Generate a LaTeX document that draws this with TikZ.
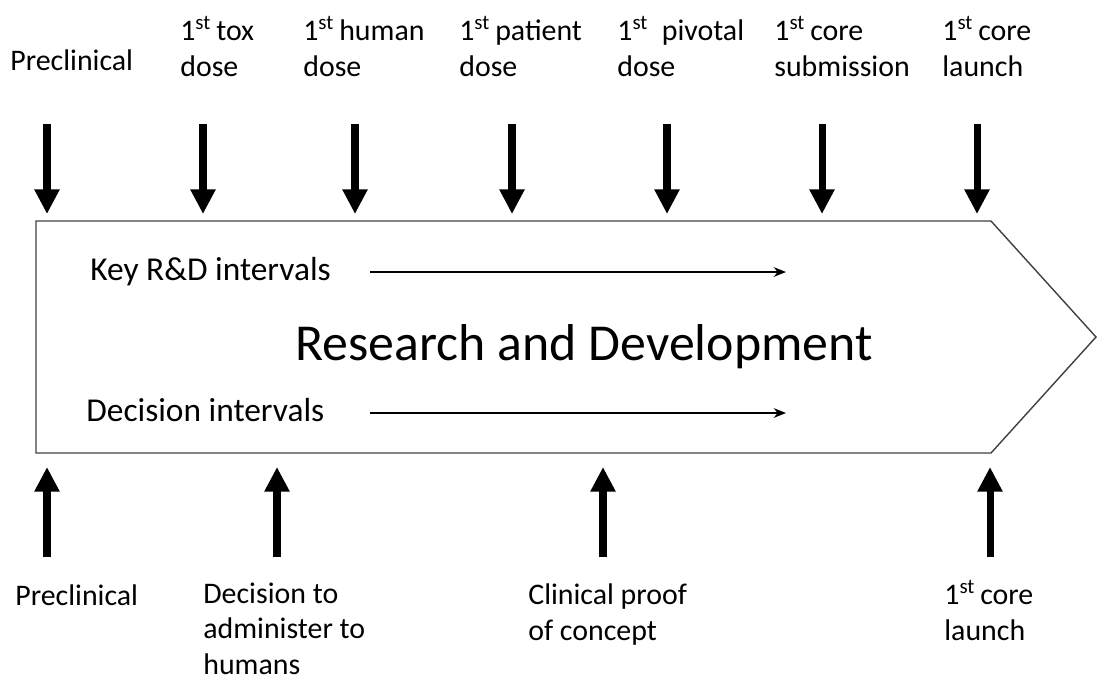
\documentclass[tikz,border=0pt]{standalone}
\usepackage{fontspec}
\setmainfont{Carlito}
\usetikzlibrary{arrows.meta,positioning}

\begin{document}
\begin{tikzpicture}[
    x=0.02cm, y=-0.02cm,
    milestone/.style={anchor=base west, inner sep=0pt, align=left, font=\fontsize{17}{20.2}\selectfont},
    interval/.style={anchor=base west, inner sep=0pt, font=\fontsize{19}{23}\selectfont},
    title/.style={inner sep=0pt, font=\fontsize{29.5}{35}\selectfont},
    bigarrow/.style={-{Triangle[length=14pt, width=13.5pt]}, line width=4pt},
    thinarrow/.style={-{Stealth[length=7pt, width=5.5pt]}, line width=0.8pt},
    phase/.style={draw=black!75, line width=0.8pt},
]
\useasboundingbox (0,0) rectangle (1097,680);

% Research and Development block
\draw[phase] (36,221) -- (991,221) -- (1096,337) -- (991,453) -- (36,453) -- cycle;
\node[title] (rd) at (584,347) {Research and Development};

% Intervals inside the block
\node[interval] (key) at (90,280) {Key R\&D intervals};
\coordinate (keyfrom) at (370,272);
\coordinate (keyto) at (786,272);
\draw[thinarrow] (keyfrom) -- (keyto);

\node[interval] (dec) at (86,421) {Decision intervals};
\coordinate (decfrom) at (370,413);
\coordinate (decto) at (786,413);
\draw[thinarrow] (decfrom) -- (decto);

% Key R&D milestones (top), placed by the baseline of their last line
\node[milestone] (kpre) at (10,70) {Preclinical};
\node[milestone] (ktox) at (180,76) {1\textsuperscript{st}\,tox\\dose};
\node[milestone] (khum) at (303,76) {1\textsuperscript{st}\,human\\dose};
\node[milestone] (kpat) at (459,76) {1\textsuperscript{st}\,patient\\dose};
\node[milestone] (kpiv) at (617,76) {1\textsuperscript{st}\ \ pivotal\\dose};
\node[milestone] (ksub) at (774,76) {1\textsuperscript{st}\,core\\submission};
\node[milestone] (klau) at (942,76) {1\textsuperscript{st}\,core\\launch};

\foreach \name/\x in {kpre/47, ktox/203, khum/355, kpat/512, kpiv/667, ksub/822, klau/977} {
  \coordinate (\name-from) at (\x,124);
  \coordinate (\name-to) at (\x,214);
  \draw[bigarrow] (\name-from) -- (\name-to);
}

% Decision milestones (bottom)
\node[milestone] (dpre) at (15,605) {Preclinical};
\node[milestone] (dhum) at (203,674) {Decision to\\administer to\\humans};
\node[milestone] (dpoc) at (528,640) {Clinical proof\\of concept};
\node[milestone] (dlau) at (944,640) {1\textsuperscript{st}\,core\\launch};

\foreach \name/\x in {dpre/47, dhum/277, dpoc/603, dlau/990} {
  \coordinate (\name-from) at (\x,557);
  \coordinate (\name-to) at (\x,467);
  \draw[bigarrow] (\name-from) -- (\name-to);
}

\end{tikzpicture}
\end{document}
